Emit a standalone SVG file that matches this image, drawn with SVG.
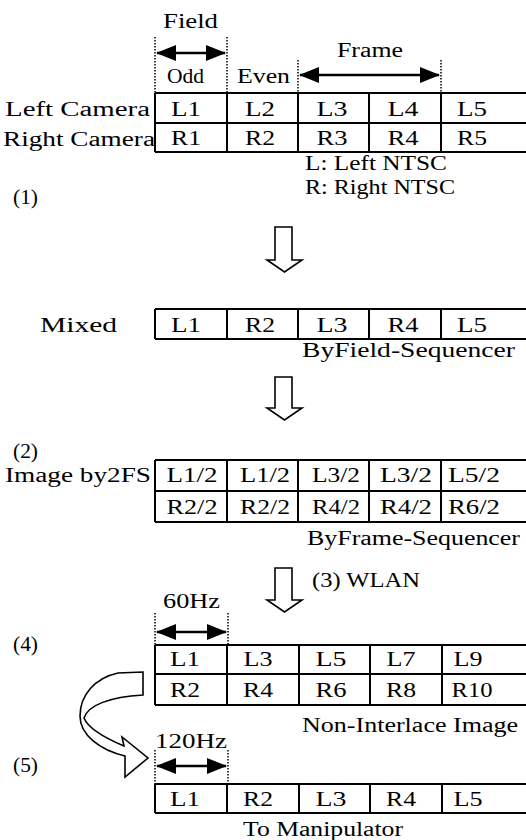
<svg xmlns="http://www.w3.org/2000/svg" width="526" height="840" viewBox="0 0 526 840">
<defs>
<style>
text{font-family:"Liberation Serif","Times New Roman",serif;fill:#000}
.lb{font-size:20px}
.cl{font-size:22px;text-anchor:middle}
.tb{fill:none;stroke:#000;stroke-width:2}
.dot{stroke:#000;stroke-width:1.5;stroke-dasharray:1.5 1.5}
.dbl{stroke:#000;stroke-width:2.5;marker-start:url(#ah);marker-end:url(#ah)}
.hol{fill:#fff;stroke:#000;stroke-width:1.6;stroke-linejoin:miter}
</style>
<marker id="ah" markerUnits="userSpaceOnUse" markerWidth="20" markerHeight="16" refX="19" refY="8" orient="auto-start-reverse">
<path d="M0,0 L20,8 L0,16 z" fill="#000"/>
</marker>
</defs>
<rect width="526" height="840" fill="#fff"/>

<g id="header">
<text class="lb" x="163" y="28" textLength="55" lengthAdjust="spacingAndGlyphs">Field</text>
<text class="lb" x="337" y="57" textLength="66" lengthAdjust="spacingAndGlyphs">Frame</text>
<text class="lb" x="167" y="83" textLength="37" lengthAdjust="spacingAndGlyphs">Odd</text>
<text class="lb" x="237" y="83" textLength="53" lengthAdjust="spacingAndGlyphs">Even</text>
<line class="dot" x1="155" y1="37" x2="155" y2="93"/>
<line class="dot" x1="227" y1="37" x2="227" y2="93"/>
<line class="dot" x1="298" y1="60" x2="298" y2="93"/>
<line class="dot" x1="441" y1="60" x2="441" y2="93"/>
</g>

<g id="cameras">
<text class="lb" x="5" y="116" textLength="145" lengthAdjust="spacingAndGlyphs">Left Camera</text>
<text class="lb" x="3" y="146" textLength="152" lengthAdjust="spacingAndGlyphs">Right Camera</text>
<path class="tb" d="M155,93 H526 M155,123 H526 M155,152 H526 M155,93 V152 M227,93 V152 M298,93 V152 M369,93 V152 M441,93 V152"/>
<text class="cl" x="186" y="116" textLength="30" lengthAdjust="spacingAndGlyphs">L1</text>
<text class="cl" x="260" y="116" textLength="30" lengthAdjust="spacingAndGlyphs">L2</text>
<text class="cl" x="332" y="116" textLength="31" lengthAdjust="spacingAndGlyphs">L3</text>
<text class="cl" x="403" y="116" textLength="31" lengthAdjust="spacingAndGlyphs">L4</text>
<text class="cl" x="472" y="116" textLength="30" lengthAdjust="spacingAndGlyphs">L5</text>
<text class="cl" x="186" y="145" textLength="30" lengthAdjust="spacingAndGlyphs">R1</text>
<text class="cl" x="260" y="145" textLength="30" lengthAdjust="spacingAndGlyphs">R2</text>
<text class="cl" x="332" y="145" textLength="31" lengthAdjust="spacingAndGlyphs">R3</text>
<text class="cl" x="403" y="145" textLength="31" lengthAdjust="spacingAndGlyphs">R4</text>
<text class="cl" x="472" y="145" textLength="30" lengthAdjust="spacingAndGlyphs">R5</text>
<text class="lb" x="305" y="170" textLength="142" lengthAdjust="spacingAndGlyphs">L: Left NTSC</text>
<text class="lb" x="305" y="194" textLength="150" lengthAdjust="spacingAndGlyphs">R: Right NTSC</text>
<text class="lb" x="13" y="204" textLength="25" lengthAdjust="spacingAndGlyphs">(1)</text>
</g>

<g id="mixed">
<text class="lb" x="40" y="332" textLength="77" lengthAdjust="spacingAndGlyphs">Mixed</text>
<path class="tb" d="M155,309 H526 M155,339 H526 M155,309 V339 M227,309 V339 M298,309 V339 M369,309 V339 M441,309 V339"/>
<text class="cl" x="186" y="332" textLength="30" lengthAdjust="spacingAndGlyphs">L1</text>
<text class="cl" x="260" y="332" textLength="30" lengthAdjust="spacingAndGlyphs">R2</text>
<text class="cl" x="332" y="332" textLength="31" lengthAdjust="spacingAndGlyphs">L3</text>
<text class="cl" x="403" y="332" textLength="31" lengthAdjust="spacingAndGlyphs">R4</text>
<text class="cl" x="472" y="332" textLength="30" lengthAdjust="spacingAndGlyphs">L5</text>
<text class="lb" x="302" y="357" textLength="213" lengthAdjust="spacingAndGlyphs">ByField-Sequencer</text>
</g>

<g id="twofs">
<text class="lb" x="13" y="458" textLength="25" lengthAdjust="spacingAndGlyphs">(2)</text>
<text class="lb" x="5" y="482" textLength="146" lengthAdjust="spacingAndGlyphs">Image by2FS</text>
<path class="tb" d="M155,460 H526 M155,491 H526 M155,522 H526 M155,460 V522 M227,460 V522 M298,460 V522 M369,460 V522 M441,460 V522"/>
<text class="cl" x="192" y="482" textLength="51" lengthAdjust="spacingAndGlyphs">L1/2</text>
<text class="cl" x="265" y="482" textLength="50" lengthAdjust="spacingAndGlyphs">L1/2</text>
<text class="cl" x="336" y="482" textLength="48" lengthAdjust="spacingAndGlyphs">L3/2</text>
<text class="cl" x="406" y="482" textLength="52" lengthAdjust="spacingAndGlyphs">L3/2</text>
<text class="cl" x="474" y="482" textLength="52" lengthAdjust="spacingAndGlyphs">L5/2</text>
<text class="cl" x="192" y="514" textLength="51" lengthAdjust="spacingAndGlyphs">R2/2</text>
<text class="cl" x="265" y="514" textLength="50" lengthAdjust="spacingAndGlyphs">R2/2</text>
<text class="cl" x="336" y="514" textLength="48" lengthAdjust="spacingAndGlyphs">R4/2</text>
<text class="cl" x="406" y="514" textLength="52" lengthAdjust="spacingAndGlyphs">R4/2</text>
<text class="cl" x="474" y="514" textLength="52" lengthAdjust="spacingAndGlyphs">R6/2</text>
<text class="lb" x="307" y="545" textLength="213" lengthAdjust="spacingAndGlyphs">ByFrame-Sequencer</text>
<text class="lb" x="312" y="587" textLength="108" lengthAdjust="spacingAndGlyphs">(3) WLAN</text>
</g>

<g id="noninterlace">
<text class="lb" x="163" y="608" textLength="57" lengthAdjust="spacingAndGlyphs">60Hz</text>
<line class="dot" x1="155" y1="613" x2="155" y2="645"/>
<line class="dot" x1="228" y1="613" x2="228" y2="645"/>
<text class="lb" x="13" y="651" textLength="25" lengthAdjust="spacingAndGlyphs">(4)</text>
<path class="tb" d="M155,645 H526 M155,674 H526 M155,705 H526 M155,645 V705 M227,645 V705 M299,645 V705 M370,645 V705 M442,645 V705"/>
<text class="cl" x="185" y="666" textLength="30" lengthAdjust="spacingAndGlyphs">L1</text>
<text class="cl" x="258" y="666" textLength="29" lengthAdjust="spacingAndGlyphs">L3</text>
<text class="cl" x="331" y="666" textLength="31" lengthAdjust="spacingAndGlyphs">L5</text>
<text class="cl" x="401" y="666" textLength="29" lengthAdjust="spacingAndGlyphs">L7</text>
<text class="cl" x="468" y="666" textLength="29" lengthAdjust="spacingAndGlyphs">L9</text>
<text class="cl" x="185" y="697" textLength="30" lengthAdjust="spacingAndGlyphs">R2</text>
<text class="cl" x="258" y="697" textLength="30" lengthAdjust="spacingAndGlyphs">R4</text>
<text class="cl" x="331" y="697" textLength="31" lengthAdjust="spacingAndGlyphs">R6</text>
<text class="cl" x="401" y="697" textLength="30" lengthAdjust="spacingAndGlyphs">R8</text>
<text class="cl" x="472" y="697" textLength="41" lengthAdjust="spacingAndGlyphs">R10</text>
<text class="lb" x="302" y="732" textLength="216" lengthAdjust="spacingAndGlyphs">Non-Interlace Image</text>
</g>

<g id="output">
<text class="lb" x="155" y="748" textLength="72" lengthAdjust="spacingAndGlyphs">120Hz</text>
<line class="dot" x1="155" y1="750" x2="155" y2="784"/>
<line class="dot" x1="228" y1="750" x2="228" y2="784"/>
<text class="lb" x="13" y="772" textLength="25" lengthAdjust="spacingAndGlyphs">(5)</text>
<path class="tb" d="M155,784 H526 M155,813 H526 M155,784 V813 M227,784 V813 M299,784 V813 M370,784 V813 M442,784 V813"/>
<text class="cl" x="185" y="806" textLength="30" lengthAdjust="spacingAndGlyphs">L1</text>
<text class="cl" x="258" y="806" textLength="30" lengthAdjust="spacingAndGlyphs">R2</text>
<text class="cl" x="331" y="806" textLength="31" lengthAdjust="spacingAndGlyphs">L3</text>
<text class="cl" x="401" y="806" textLength="30" lengthAdjust="spacingAndGlyphs">R4</text>
<text class="cl" x="468" y="806" textLength="29" lengthAdjust="spacingAndGlyphs">L5</text>
<text class="lb" x="243" y="836" textLength="160" lengthAdjust="spacingAndGlyphs">To Manipulator</text>
</g>

<g id="connectors">
<line class="dbl" x1="157" y1="53" x2="225" y2="53"/>
<line class="dbl" x1="300" y1="75" x2="439" y2="75"/>
<line class="dbl" x1="157" y1="632" x2="226" y2="632"/>
<line class="dbl" x1="157" y1="766" x2="226" y2="766"/>
<path class="hol" d="M275,227 H292 V260 H302 L284.5,272 L267,260 H275 Z"/>
<path class="hol" d="M275,377 H292 V408 H302 L284.5,420 L267,408 H275 Z"/>
<path class="hol" d="M275,568 H292 V600 H302 L284.5,612 L267,600 H275 Z"/>
<path class="hol" d="M143,672 L118,673 C95,678 80,695 80,716 C80,735 100,750 125,756 L125,777 L148,758 L122,737 L124,746 C105,738 88,728 84,718 C88,705 110,697 143,695 Z"/>
</g>
</svg>
